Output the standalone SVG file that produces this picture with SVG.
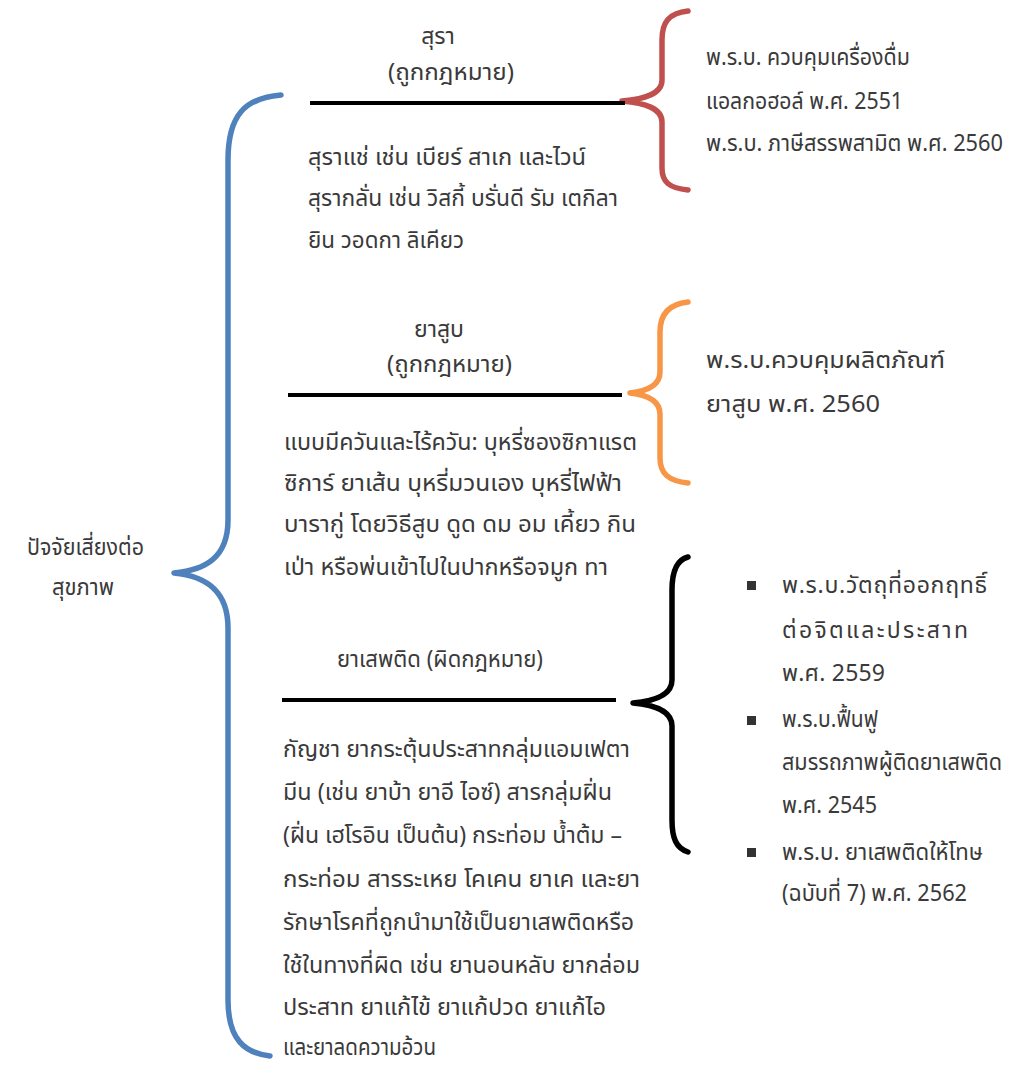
<svg xmlns="http://www.w3.org/2000/svg" width="1027" height="1065" viewBox="0 0 1027 1065">
<style>
text{font-family:"Noto Sans Thai","Noto Sans","DejaVu Sans",sans-serif;font-size:23px;fill:#3a3a3a}
.c{text-anchor:middle}
.br{fill:none;stroke-width:5.5;stroke-linecap:round;stroke-linejoin:round}
.rule{stroke:#000;stroke-width:4}
</style>
<rect width="1027" height="1065" fill="#fff"/>
<g id="connectors">
<path class="br" stroke="#4f81bd" d="M281,95 C245,98 228,115 228,160 L228,520 C228,558 205,570 174,573 C205,576 228,590 228,628 L228,1000 C228,1040 245,1053 270,1056"/>
<path class="br" stroke="#c0504d" d="M688,11 C669,13 662,22 662,40 L662,80 C662,94 645,99 622,101 C645,103 662,108 662,122 L662,168 C662,182 669,188 688,190"/>
<path class="br" stroke="#f79646" d="M688,302 C669,304 660,314 660,332 L660,372 C660,385 648,391 630,393 C648,395 660,401 660,414 L660,458 C660,474 669,481 688,483"/>
<path class="br" stroke="#000" d="M688,557 C676,560 672,572 672,590 L672,680 C672,695 655,701 633,703 C655,705 672,711 672,726 L672,820 C672,838 676,848 688,852"/>
<line class="rule" x1="310" y1="103" x2="625" y2="103"/>
<line class="rule" x1="288" y1="395" x2="622" y2="395"/>
<line class="rule" x1="282" y1="700" x2="616" y2="700"/>
</g>
<g id="root">
<text x="27" y="555" textLength="117" lengthAdjust="spacingAndGlyphs">ปัจจัยเสี่ยงต่อ</text>
<text x="52" y="595" textLength="62" lengthAdjust="spacingAndGlyphs">สุขภาพ</text>
</g>
<g id="alcohol">
<text class="c" x="438" y="44">สุรา</text>
<text x="388" y="80" textLength="126" lengthAdjust="spacingAndGlyphs">(ถูกกฎหมาย)</text>
<text x="308" y="165" textLength="278" lengthAdjust="spacingAndGlyphs">สุราแช่ เช่น เบียร์ สาเก และไวน์</text>
<text x="308" y="206" textLength="310" lengthAdjust="spacingAndGlyphs">สุรากลั่น เช่น วิสกี้ บรั่นดี รัม เตกิลา</text>
<text x="308" y="248" textLength="156" lengthAdjust="spacingAndGlyphs">ยิน วอดกา ลิเคียว</text>
</g>
<g id="alcohol-law">
<text x="706" y="65" textLength="204" lengthAdjust="spacingAndGlyphs">พ.ร.บ. ควบคุมเครื่องดื่ม</text>
<text x="706" y="109" textLength="197" lengthAdjust="spacingAndGlyphs">แอลกอฮอล์ พ.ศ. 2551</text>
<text x="706" y="151" textLength="297" lengthAdjust="spacingAndGlyphs">พ.ร.บ. ภาษีสรรพสามิต พ.ศ. 2560</text>
</g>
<g id="tobacco">
<text class="c" x="439" y="337">ยาสูบ</text>
<text x="387" y="372" textLength="125" lengthAdjust="spacingAndGlyphs">(ถูกกฎหมาย)</text>
<text x="284" y="450" textLength="353" lengthAdjust="spacingAndGlyphs">แบบมีควันและไร้ควัน: บุหรี่ซองซิกาแรต</text>
<text x="284" y="491" textLength="338" lengthAdjust="spacingAndGlyphs">ซิการ์  ยาเส้น บุหรี่มวนเอง บุหรี่ไฟฟ้า</text>
<text x="284" y="532" textLength="352" lengthAdjust="spacingAndGlyphs">บารากู่ โดยวิธีสูบ ดูด ดม อม เคี้ยว กิน</text>
<text x="284" y="575" textLength="324" lengthAdjust="spacingAndGlyphs">เป่า หรือพ่นเข้าไปในปากหรือจมูก ทา</text>
</g>
<g id="tobacco-law">
<text x="706" y="368" textLength="239" lengthAdjust="spacingAndGlyphs">พ.ร.บ.ควบคุมผลิตภัณฑ์</text>
<text x="706" y="412" textLength="174" lengthAdjust="spacingAndGlyphs">ยาสูบ พ.ศ. 2560</text>
</g>
<g id="drugs">
<text x="337" y="667" textLength="206" lengthAdjust="spacingAndGlyphs">ยาเสพติด (ผิดกฎหมาย)</text>
<text x="283" y="757" textLength="347" lengthAdjust="spacingAndGlyphs">กัญชา ยากระตุ้นประสาทกลุ่มแอมเฟตา</text>
<text x="283" y="800" textLength="329" lengthAdjust="spacingAndGlyphs">มีน (เช่น ยาบ้า ยาอี ไอซ์) สารกลุ่มฝิ่น</text>
<text x="283" y="843" textLength="339" lengthAdjust="spacingAndGlyphs">(ฝิ่น เฮโรอิน เป็นต้น) กระท่อม น้ำต้ม –</text>
<text x="283" y="887" textLength="357" lengthAdjust="spacingAndGlyphs">กระท่อม สารระเหย โคเคน ยาเค และยา</text>
<text x="283" y="930" textLength="351" lengthAdjust="spacingAndGlyphs">รักษาโรคที่ถูกนำมาใช้เป็นยาเสพติดหรือ</text>
<text x="283" y="973" textLength="357" lengthAdjust="spacingAndGlyphs">ใช้ในทางที่ผิด เช่น ยานอนหลับ ยากล่อม</text>
<text x="283" y="1015" textLength="323" lengthAdjust="spacingAndGlyphs">ประสาท ยาแก้ไข้ ยาแก้ปวด ยาแก้ไอ</text>
<text x="283" y="1055" textLength="153" lengthAdjust="spacingAndGlyphs">และยาลดความอ้วน</text>
</g>
<g id="drug-law">
<rect x="747" y="581" width="9" height="9" fill="#333"/>
<rect x="747" y="716" width="9" height="9" fill="#333"/>
<rect x="747" y="848" width="9" height="9" fill="#333"/>
<text x="782" y="593" textLength="205" lengthAdjust="spacing">พ.ร.บ.วัตถุที่ออกฤทธิ์</text>
<text x="782" y="638" textLength="186" lengthAdjust="spacing">ต่อจิตและประสาท</text>
<text x="782" y="681" textLength="103" lengthAdjust="spacing">พ.ศ. 2559</text>
<text x="782" y="727" textLength="96" lengthAdjust="spacingAndGlyphs">พ.ร.บ.ฟื้นฟู</text>
<text x="782" y="770" textLength="220" lengthAdjust="spacingAndGlyphs">สมรรถภาพผู้ติดยาเสพติด</text>
<text x="782" y="813" textLength="95" lengthAdjust="spacingAndGlyphs">พ.ศ. 2545</text>
<text x="782" y="860" textLength="201" lengthAdjust="spacingAndGlyphs">พ.ร.บ. ยาเสพติดให้โทษ</text>
<text x="782" y="901" textLength="185" lengthAdjust="spacingAndGlyphs">(ฉบับที่ 7) พ.ศ. 2562</text>
</g>
</svg>
